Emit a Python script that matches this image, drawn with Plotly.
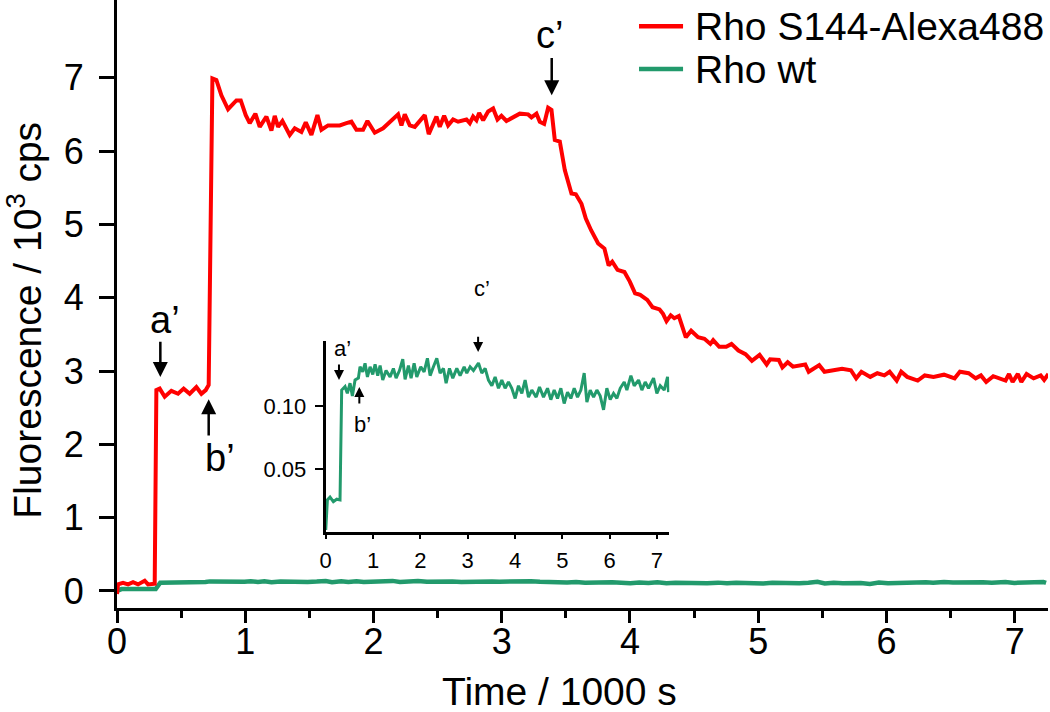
import plotly.graph_objects as go

# ---- data (time in 1000 s, fluorescence in 10^3 cps) ----
red_t = [0.000, 0.008, 0.047, 0.086, 0.125, 0.164, 0.216, 0.242, 0.294, 0.307, 0.333, 0.372, 0.424, 0.476,
         0.520, 0.567, 0.619, 0.658, 0.692, 0.715, 0.744, 0.775, 0.814, 0.866, 0.931, 0.965, 1.004, 1.035,
         1.079, 1.113, 1.165, 1.204, 1.230, 1.256, 1.290, 1.347, 1.386, 1.438, 1.472, 1.516, 1.563, 1.594,
         1.646, 1.737, 1.789, 1.828, 1.867, 1.919, 1.953, 2.010, 2.075, 2.153, 2.192, 2.218, 2.244, 2.283,
         2.322, 2.400, 2.431, 2.491, 2.517, 2.551, 2.582, 2.621, 2.660, 2.725, 2.751, 2.777, 2.803, 2.824,
         2.855, 2.894, 2.933, 2.967, 2.998, 3.037, 3.089, 3.141, 3.206, 3.232, 3.271, 3.297, 3.331, 3.362,
         3.388, 3.414, 3.453, 3.492, 3.544, 3.578, 3.622, 3.656, 3.697, 3.752, 3.801, 3.834, 3.862, 3.903,
         3.957, 3.999, 4.040, 4.080, 4.135, 4.176, 4.231, 4.258, 4.285, 4.318, 4.346, 4.381, 4.436, 4.477,
         4.531, 4.581, 4.627, 4.649, 4.696, 4.751, 4.792, 4.846, 4.901, 4.951, 5.011, 5.066, 5.093, 5.161,
         5.189, 5.230, 5.271, 5.367, 5.394, 5.476, 5.517, 5.572, 5.654, 5.723, 5.764, 5.805, 5.874, 5.929,
         5.984, 6.025, 6.080, 6.115, 6.162, 6.244, 6.299, 6.367, 6.449, 6.532, 6.573, 6.641, 6.696, 6.737,
         6.778, 6.833, 6.929, 6.956, 6.984, 7.025, 7.052, 7.093, 7.148, 7.203, 7.230, 7.263]
red_v = [-0.04, 0.09, 0.11, 0.09, 0.12, 0.09, 0.14, 0.09, 0.10, 2.74, 2.76, 2.65, 2.73, 2.69,
         2.76, 2.69, 2.78, 2.69, 2.74, 2.81, 6.99, 6.97, 6.76, 6.57, 6.69, 6.69, 6.49, 6.38,
         6.51, 6.33, 6.47, 6.28, 6.48, 6.33, 6.41, 6.22, 6.31, 6.26, 6.39, 6.22, 6.49, 6.29,
         6.35, 6.35, 6.38, 6.40, 6.29, 6.29, 6.41, 6.25, 6.31, 6.44, 6.50, 6.35, 6.50, 6.35,
         6.33, 6.49, 6.23, 6.47, 6.33, 6.48, 6.35, 6.43, 6.40, 6.43, 6.38, 6.47, 6.42, 6.52,
         6.42, 6.54, 6.58, 6.43, 6.48, 6.41, 6.46, 6.51, 6.50, 6.46, 6.51, 6.40, 6.37, 6.59,
         6.56, 6.15, 6.13, 5.74, 5.42, 5.41, 5.28, 5.08, 4.92, 4.74, 4.67, 4.44, 4.49, 4.38,
         4.35, 4.22, 4.06, 4.04, 3.97, 3.87, 3.84, 3.78, 3.68, 3.76, 3.72, 3.75, 3.46, 3.55,
         3.46, 3.44, 3.37, 3.42, 3.33, 3.33, 3.37, 3.28, 3.23, 3.14, 3.22, 3.09, 3.16, 3.15,
         3.05, 3.12, 3.06, 3.09, 2.99, 3.08, 2.99, 3.01, 3.03, 3.01, 2.90, 2.99, 2.92, 2.97,
         2.94, 2.99, 2.87, 2.99, 2.92, 2.87, 2.94, 2.92, 2.95, 2.90, 2.99, 2.97, 2.90, 2.94,
         2.85, 2.93, 2.87, 2.96, 2.85, 2.96, 2.85, 2.96, 2.90, 2.94, 2.88, 2.96]

green_t = [0.000, 0.035, 0.091, 0.161, 0.232, 0.302, 0.337, 0.408, 0.457, 0.514, 0.563, 0.620, 0.690, 0.725,
           0.782, 0.831, 0.881, 0.937, 0.994, 1.043, 1.099, 1.149, 1.205, 1.275, 1.360, 1.430, 1.487, 1.558,
           1.628, 1.677, 1.748, 1.804, 1.868, 1.924, 2.008, 2.079, 2.149, 2.206, 2.276, 2.347, 2.417, 2.488,
           2.544, 2.615, 2.685, 2.770, 2.840, 2.925, 2.981, 3.051, 3.122, 3.228, 3.298, 3.369, 3.439, 3.510,
           3.580, 3.650, 3.721, 3.791, 3.862, 3.932, 4.003, 4.073, 4.144, 4.214, 4.285, 4.355, 4.447, 4.518,
           4.602, 4.687, 4.757, 4.828, 4.898, 4.969, 5.039, 5.110, 5.180, 5.251, 5.321, 5.392, 5.462, 5.519,
           5.589, 5.660, 5.730, 5.800, 5.871, 5.941, 6.012, 6.082, 6.153, 6.223, 6.308, 6.364, 6.449, 6.519,
           6.611, 6.681, 6.752, 6.822, 6.928, 6.998, 7.069, 7.153, 7.224, 7.245]
green_v = [0.002, 0.0257, 0.0279, 0.0244, 0.0263, 0.0257, 0.1126, 0.1153, 0.110, 0.118, 0.108, 0.1205, 0.122, 0.131,
           0.127, 0.1337, 0.123, 0.131, 0.125, 0.133, 0.124, 0.132, 0.1205, 0.128, 0.123, 0.1297, 0.122, 0.128,
           0.137, 0.121, 0.132, 0.122, 0.1337, 0.123, 0.131, 0.127, 0.1377, 0.124, 0.131, 0.1377, 0.126, 0.1297,
           0.118, 0.1297, 0.122, 0.1297, 0.124, 0.131, 0.126, 0.131, 0.128, 0.134, 0.126, 0.1297, 0.1205, 0.116,
           0.123, 0.114, 0.1205, 0.114, 0.119, 0.114, 0.106, 0.116, 0.110, 0.1205, 0.107, 0.1126, 0.107, 0.115,
           0.107, 0.114, 0.105, 0.1126, 0.106, 0.114, 0.102, 0.111, 0.106, 0.114, 0.107, 0.1126, 0.126, 0.103,
           0.1126, 0.107, 0.1126, 0.108, 0.097, 0.114, 0.105, 0.110, 0.106, 0.114, 0.119, 0.1126, 0.124, 0.116,
           0.1205, 0.1126, 0.119, 0.114, 0.122, 0.110, 0.116, 0.1126, 0.123, 0.111]

series_names = ["Rho S144-Alexa488", "Rho wt"]
main_xticks = [0, 1, 2, 3, 4, 5, 6, 7]
main_yticks = [0, 1, 2, 3, 4, 5, 6, 7]
inset_yticks = [0.05, 0.10]
inset_yticklabels = ["0.05", "0.10"]

RED = "#ff0000"
GREEN = "#229a6c"
FONT = "Liberation Sans, Arial, Helvetica, sans-serif"

fig = go.Figure()
fig.add_trace(go.Scatter(x=green_t, y=green_v, mode="lines", name=series_names[1],
                         line=dict(color=GREEN, width=4.5), showlegend=False))
fig.add_trace(go.Scatter(x=red_t, y=red_v, mode="lines", name=series_names[0],
                         line=dict(color=RED, width=4), showlegend=False))
fig.add_trace(go.Scatter(x=green_t, y=green_v, mode="lines", name=series_names[1],
                         line=dict(color=GREEN, width=3), showlegend=False,
                         xaxis="x2", yaxis="y2"))

axis_common = dict(showline=True, linecolor="black", linewidth=3, showgrid=False, zeroline=False,
                   ticks="outside", tickcolor="black", tickwidth=3)

fig.update_layout(
    width=1050, height=712,
    margin=dict(l=117, r=2, t=0, b=104),
    paper_bgcolor="white", plot_bgcolor="rgba(0,0,0,0)",
    font=dict(family=FONT, color="black"),
    xaxis=dict(axis_common, range=[0, 7.26], tickvals=main_xticks, ticklen=12,
               tickfont=dict(size=36), ticklabelstandoff=-12,
               minor=dict(ticks="outside", tickvals=[0.5, 1.5, 2.5, 3.5, 4.5, 5.5, 6.5],
                          ticklen=7, tickwidth=3, tickcolor="black")),
    yaxis=dict(axis_common, range=[-0.232, 8.06], tickvals=main_yticks, ticklen=15,
               tickfont=dict(size=36), ticklabelstandoff=8),
    xaxis2=dict(axis_common, domain=[0.2242, 0.5932], anchor="y2", range=[0, 7.26],
                tickvals=main_xticks, ticklen=4, tickwidth=2, tickfont=dict(size=22),
                ticklabelstandoff=2),
    yaxis2=dict(axis_common, domain=[0.1242, 0.4396], anchor="x2", range=[0, 0.1516],
                tickvals=inset_yticks, ticktext=inset_yticklabels, ticklen=8, tickwidth=2,
                tickfont=dict(size=22), ticklabelstandoff=4),
)

ann = []
# axis titles
ann.append(dict(text="Time / 1000 s", xref="paper", yref="paper", x=0.475, y=-0.138,
                showarrow=False, font=dict(size=39), xanchor="center", yanchor="middle"))
ann.append(dict(text="Fluorescence / 10<sup>3</sup> cps", xref="paper", yref="paper", x=-0.099, y=0.474,
                showarrow=False, font=dict(size=39), textangle=-90, xanchor="center", yanchor="middle"))

# main arrows: (head x, head y, tail y)
main_arrows = [(0.338, 2.92, 3.42), (0.715, 2.615, 2.10), (3.39, 6.76, 7.29)]
for hx, hy, ty in main_arrows:
    ann.append(dict(x=hx, y=hy, ax=hx, ay=ty, xref="x", yref="y", axref="x", ayref="y", text="",
                    showarrow=True, arrowhead=2, arrowsize=1.2, arrowwidth=2.5, arrowcolor="black"))
main_labels = [("a’", 0.373, 3.69), ("b’", 0.80, 1.81), ("c’", 3.375, 7.58)]
for t, lx, ly in main_labels:
    ann.append(dict(text=t, x=lx, y=ly, xref="x", yref="y", showarrow=False, font=dict(size=38),
                    xanchor="center", yanchor="middle"))

# inset arrows
inset_arrows = [(0.28, 0.1205, 0.134), (0.71, 0.115, 0.1008), (3.22, 0.1426, 0.156)]
for hx, hy, ty in inset_arrows:
    ann.append(dict(x=hx, y=hy, ax=hx, ay=ty, xref="x2", yref="y2", axref="x2", ayref="y2", text="",
                    showarrow=True, arrowhead=2, arrowsize=1.0, arrowwidth=2, arrowcolor="black"))
# inset labels (paper coordinates so that labels above the inset range stay visible)
inset_labels = [("a’", 0.2417, 0.4276), ("b’", 0.2633, 0.3010), ("c’", 0.3921, 0.5263)]
for t, lx, ly in inset_labels:
    ann.append(dict(text=t, x=lx, y=ly, xref="paper", yref="paper", showarrow=False,
                    font=dict(size=22), xanchor="center", yanchor="middle"))

# manual legend
legend_y = [0.957, 0.8865]
legend_colors = [RED, GREEN]
shapes = []
for name, ly, col in zip(series_names, legend_y, legend_colors):
    shapes.append(dict(type="line", xref="paper", yref="paper", x0=0.5607, x1=0.608, y0=ly, y1=ly,
                       line=dict(color=col, width=4.5)))
    ann.append(dict(text=name, xref="paper", yref="paper", x=0.6187, y=ly, xanchor="left",
                    yanchor="middle", showarrow=False, font=dict(size=39)))

fig.update_layout(annotations=ann, shapes=shapes)
fig.write_html("out.html", config={"displayModeBar": False},
               post_script="document.body.style.margin='0';")
